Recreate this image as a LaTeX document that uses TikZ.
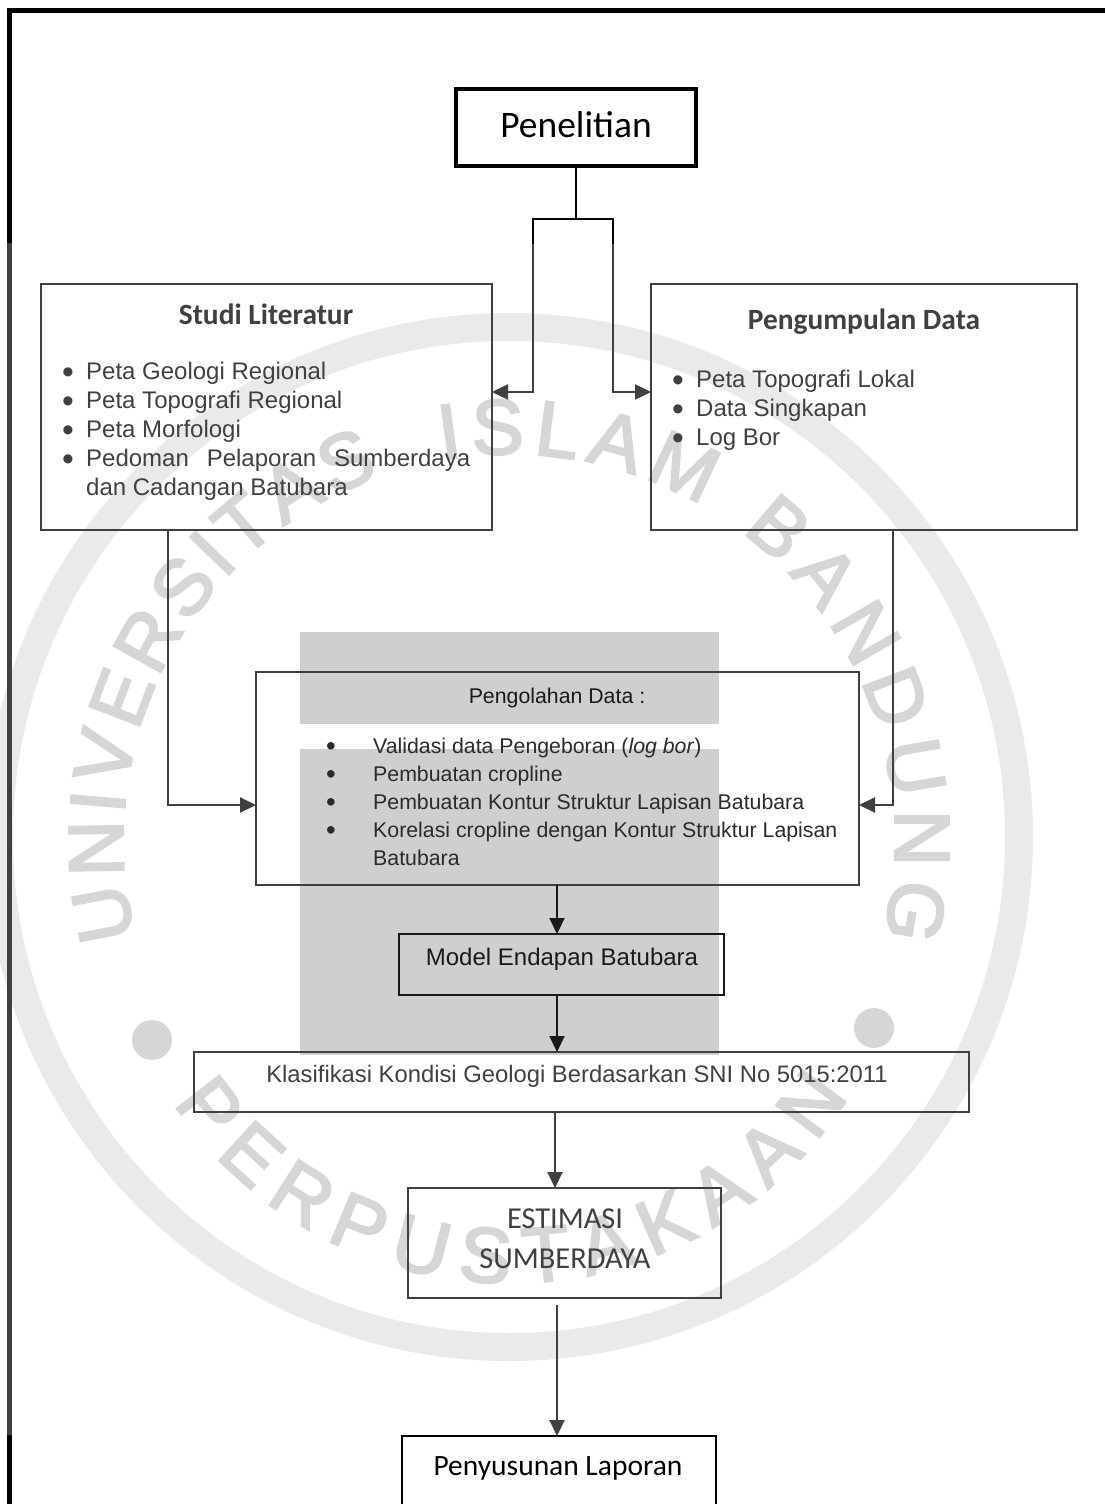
\documentclass[tikz,border=0pt]{standalone}
\usepackage{fontspec}
\setmainfont{Liberation Sans}
\newfontfamily\calfont{Carlito}
\newfontfamily\wmfont[FakeBold=3]{Liberation Sans}
\usetikzlibrary{arrows.meta,decorations.text}
\definecolor{lin}{HTML}{404040}
\definecolor{dk}{HTML}{1A1A1A}
\definecolor{listc}{HTML}{2B2B2B}
\definecolor{wmgray}{HTML}{CFCFCF}
\definecolor{wmring}{HTML}{EAEAEA}
\definecolor{wmtext}{HTML}{D6D6D6}
\tikzset{
  x=1pt,y=-1pt,
  boxnode/.style={draw=lin,line width=2pt,inner sep=0pt,outer sep=0pt,anchor=north west},
  conn/.style={draw=lin,line width=2pt},
  arrowconn/.style={conn,-{Triangle[length=16pt,width=15pt]}},
  darkconn/.style={draw=dk,line width=2pt,-{Triangle[length=16pt,width=15pt]}},
  txt/.style={inner sep=0pt,text=lin},
  listnode/.style={inner sep=0pt,anchor=north west,align=left,text=lin},
  wmarc/.style={decorate,decoration={text along path,text align=fit to path,text color=wmtext,
    text={|\fontsize{78}{78}\wmfont|#1}}},
}
\newcommand{\itmA}[1]{\makebox[24pt][l]{\raisebox{-0.16em}{\scalebox{1.4}{\textbullet}}}#1}
\newcommand{\itmB}[1]{\makebox[47pt][l]{\raisebox{-0.1em}{\scalebox{1.3}{\textbullet}}}#1}
\begin{document}
\begin{tikzpicture}
\useasboundingbox (0,0) rectangle (1105,1504);
% watermark
\fill[wmring,even odd rule] (509,837) circle[radius=524] (509,837) circle[radius=496];
\fill[wmgray] (300,632) rectangle (719,724);
\fill[wmgray] (300,749) rectangle (719,1055);
\fill[wmtext] (152,1040) circle[radius=20];
\fill[wmtext] (874,1028) circle[radius=20];
\path[wmarc=UNIVERSITAS] plot[domain=194.5:109.5,samples=60] ({509+386*cos(\x)},{840-386*sin(\x)});
\path[wmarc=ISLAM] plot[domain=100:60,samples=30] ({509+386*cos(\x)},{840-386*sin(\x)});
\path[wmarc=BANDUNG] plot[domain=53:-14.5,samples=50] ({509+386*cos(\x)},{840-386*sin(\x)});
\path[wmarc=PERPUSTAKAAN] plot[domain=213.5:327.6,samples=70] ({509+402*cos(\x)},{881-402*sin(\x)});
% frame
\draw[line width=5pt,black] (1105,10.5) -- (9.5,10.5) -- (9.5,243);
\draw[line width=5pt,lin] (9.5,243) -- (9.5,1435);
\draw[line width=5pt,black] (9.5,1435) -- (9.5,1504);
% boxes
\node[boxnode,draw=black,line width=3.5pt,minimum width=240pt,minimum height=77pt] (pen) at (456,89) {};
\node[txt,text=black,font=\calfont\fontsize{37.5}{37.5}\selectfont] (pent) at (576,125) {Penelitian};
\node[boxnode,minimum width=451pt,minimum height=246pt] (studi) at (41,284) {};
\node[txt,font=\calfont\bfseries\fontsize{29.4}{29.4}\selectfont] (studit) at (266,314) {Studi Literatur};
\node[listnode,font=\fontsize{24}{29}\selectfont] (studil) at (62,362) {%
\itmA{Peta Geologi Regional}\\
\itmA{Peta Topografi Regional}\\
\itmA{Peta Morfologi}\\
\itmA{\makebox[384pt][s]{Pedoman Pelaporan Sumberdaya}}\\
\hspace*{24pt}dan Cadangan Batubara};
\node[boxnode,minimum width=426pt,minimum height=246pt] (data) at (651,284) {};
\node[txt,font=\calfont\bfseries\fontsize{29.4}{29.4}\selectfont] (datat) at (864,322) {Pengumpulan Data};
\node[listnode,font=\fontsize{24}{29}\selectfont] (datal) at (672,370) {%
\itmA{Peta Topografi Lokal}\\
\itmA{Data Singkapan}\\
\itmA{Log Bor}};
\node[boxnode,minimum width=603pt,minimum height=213pt] (olah) at (256,672) {};
\node[txt,text=dk,font=\fontsize{21.3}{21.3}\selectfont] (olaht) at (557,698) {Pengolahan Data :};
\node[listnode,text=listc,font=\fontsize{21.3}{28}\selectfont] (olahl) at (326,738) {%
\itmB{Validasi data Pengeboran (\textit{log bor})}\\
\itmB{Pembuatan cropline}\\
\itmB{Pembuatan Kontur Struktur Lapisan Batubara}\\
\itmB{Korelasi cropline dengan Kontur Struktur Lapisan}\\
\hspace*{47pt}Batubara};
\node[boxnode,draw=dk,line width=2.8pt,minimum width=325pt,minimum height=61pt] (model) at (399,934) {};
\node[txt,text=dk,font=\fontsize{24}{24}\selectfont] (modelt) at (562,959) {Model Endapan Batubara};
\node[boxnode,minimum width=775pt,minimum height=60pt] (klas) at (194,1052) {};
\node[txt,font=\fontsize{23.8}{23.8}\selectfont] (klast) at (577,1076) {Klasifikasi Kondisi Geologi Berdasarkan SNI No 5015:2011};
\node[boxnode,minimum width=313pt,minimum height=110pt] (est) at (408,1188) {};
\node[txt,font=\calfont\fontsize{30.4}{40}\selectfont,align=center] (estt) at (565,1239) {ESTIMASI\\SUMBERDAYA};
\node[boxnode,draw=black,minimum width=314pt,minimum height=90pt] (lap) at (401.5,1436) {};
\node[txt,text=black,font=\calfont\fontsize{29.5}{29.5}\selectfont] (lapt) at (558,1468) {Penyusunan Laporan};
% connectors
\coordinate (brk) at (576,219);
\coordinate (brl) at (533,219);
\coordinate (brr) at (613,219);
\coordinate (sl) at (533,392);
\coordinate (sr) at (613,392);
\draw[draw=black,line width=1.2pt] (pen.south -| brk) -- (brk);
\draw[arrowconn,line width=2.4pt] (brl) -- (sl) -- (studi.east |- sl);
\draw[arrowconn,line width=2.4pt] (brr) -- (sr) -- (data.west |- sr);
\draw[draw=black,line width=2.8pt,line cap=rect] (533,243) -- (brl) -- (brr) -- (613,243);
\coordinate (a1) at (168,805);
\coordinate (a2) at (893,805);
\draw[arrowconn] (studi.south -| a1) -- (a1) -- (olah.west |- a1);
\draw[arrowconn] (data.south -| a2) -- (a2) -- (olah.east |- a2);
\coordinate (m1) at (557,900);
\draw[darkconn] (olah.south -| m1) -- (model.north -| m1);
\draw[darkconn] (model.south -| m1) -- (klas.north -| m1);
\coordinate (m2) at (555,1150);
\draw[arrowconn] (klas.south -| m2) -- (est.north -| m2);
\coordinate (m3) at (557,1305);
\draw[arrowconn] (m3) -- (lap.north -| m3);
\end{tikzpicture}
\end{document}
